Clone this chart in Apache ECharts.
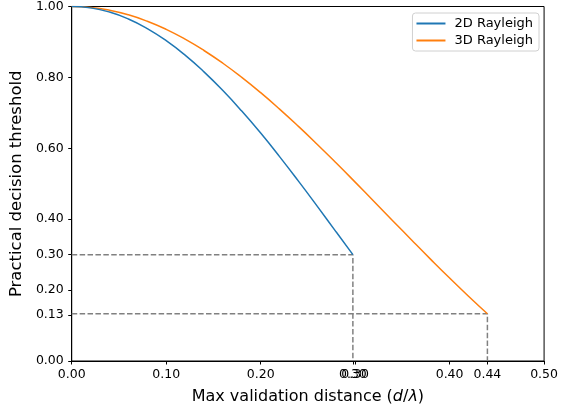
<!DOCTYPE html>
<html>
<head>
<meta charset="utf-8">
<script src="https://cdn.jsdelivr.net/npm/echarts@6/dist/echarts.min.js"></script>
<style>
  html, body { margin: 0; padding: 0; background: #fff; }
  #chart { width: 561px; height: 411px; }
</style>
</head>
<body>
<div id="chart"></div>
<script>
// values
let dist2d = [0, 0.02, 0.04, 0.06, 0.08, 0.10, 0.12, 0.14, 0.16, 0.18, 0.20, 0.22, 0.24, 0.26, 0.28, 0.2976];
let thr2d = [1, 0.9961, 0.9843, 0.9648, 0.9378, 0.9037, 0.8629, 0.8157, 0.7629, 0.7050, 0.6429, 0.5765, 0.5073, 0.4362, 0.3637, 0.30];
let dist3d = [0, 0.02, 0.04, 0.06, 0.08, 0.10, 0.12, 0.14, 0.16, 0.18, 0.20, 0.22, 0.24, 0.26, 0.28, 0.30, 0.32, 0.34, 0.36, 0.38, 0.40, 0.42, 0.44];
let thr3d = [1, 0.9974, 0.9895, 0.9765, 0.9584, 0.9355, 0.9079, 0.8759, 0.8399, 0.8000, 0.7569, 0.7106, 0.6618, 0.6109, 0.5584, 0.5046, 0.4500, 0.3952, 0.3406, 0.2867, 0.2339, 0.1826, 0.1331];
let guide2d = [[0, 0.30], [0.2976, 0.30], [0.2976, 0]];
let guide3d = [[0, 0.1331], [0.44, 0.1331], [0.44, 0]];
let xTicks = [0, 0.1, 0.2, 0.2976, 0.3, 0.4, 0.44, 0.5];
let yTicks = [0, 0.13, 0.2, 0.3, 0.4, 0.6, 0.8, 1.0];

(function () {
  let myChart = echarts.init(document.getElementById("chart"));
  let font = "DejaVu Sans";

  function pairs(xs, ys) {
    return xs.map(function (x, i) { return [x, ys[i]]; });
  }

  let guideStyle = { color: "#808080", width: 1.5, type: [5.5, 2.4] };

  let option = {
    animation: false,
    textStyle: { fontFamily: font },
    grid: {
      left: 70, right: 15, top: 6, bottom: 50,
      show: true, borderColor: "#000", borderWidth: 1,
    },
    legend: {
      right: 22, top: 13,
      orient: "vertical",
      align: "left",
      itemWidth: 29, itemHeight: 2, itemGap: 4,
      padding: [4, 6, 4, 4],
      borderColor: "#d0d0d0", borderWidth: 1, borderRadius: 3,
      textStyle: { fontFamily: font, fontSize: 13, color: "#000", padding: [0, 0, 0, 4] },
      data: [
        { name: "2D Rayleigh", icon: "rect" },
        { name: "3D Rayleigh", icon: "rect" },
      ],
    },
    xAxis: {
      type: "value", min: 0, max: 0.5,
      name: "{n|Max validation distance (}{i|d}{n|/}{i|λ}{n|)}",
      nameLocation: "middle", nameGap: 28,
      nameTextStyle: {
        rich: {
          n: { fontFamily: font, fontSize: 16, color: "#000" },
          i: { fontFamily: font, fontSize: 16, color: "#000", fontStyle: "italic" },
        },
      },
      axisLine: { lineStyle: { color: "#000", width: 1 } },
      axisTick: { customValues: xTicks, length: 3.5, lineStyle: { color: "#000" } },
      axisLabel: {
        customValues: xTicks, color: "#000", fontSize: 12.5, margin: 7,
        formatter: function (v) { return v.toFixed(2); },
      },
      splitLine: { show: false },
    },
    yAxis: {
      type: "value", min: 0, max: 1,
      name: "Practical decision threshold",
      nameLocation: "middle", nameGap: 40,
      nameTextStyle: { fontFamily: font, fontSize: 16.5, color: "#000" },
      axisLine: { show: true, lineStyle: { color: "#000", width: 1 } },
      axisTick: { show: true, customValues: yTicks, length: 3.5, lineStyle: { color: "#000" } },
      axisLabel: {
        customValues: yTicks, color: "#000", fontSize: 12.5, margin: 8,
        formatter: function (v) { return v.toFixed(2); },
      },
      splitLine: { show: false },
    },
    series: [
      {
        type: "line", data: guide2d, showSymbol: false, silent: true,
        lineStyle: guideStyle, z: 1,
      },
      {
        type: "line", data: guide3d, showSymbol: false, silent: true,
        lineStyle: guideStyle, z: 1,
      },
      {
        name: "2D Rayleigh", type: "line", data: pairs(dist2d, thr2d),
        showSymbol: false, smooth: true, color: "#1f77b4",
        lineStyle: { width: 1.5 }, z: 3,
      },
      {
        name: "3D Rayleigh", type: "line", data: pairs(dist3d, thr3d),
        showSymbol: false, smooth: true, color: "#ff7f0e",
        lineStyle: { width: 1.5 }, z: 2,
      },
    ],
  };
  myChart.setOption(option);
})();
</script>
</body>
</html>
